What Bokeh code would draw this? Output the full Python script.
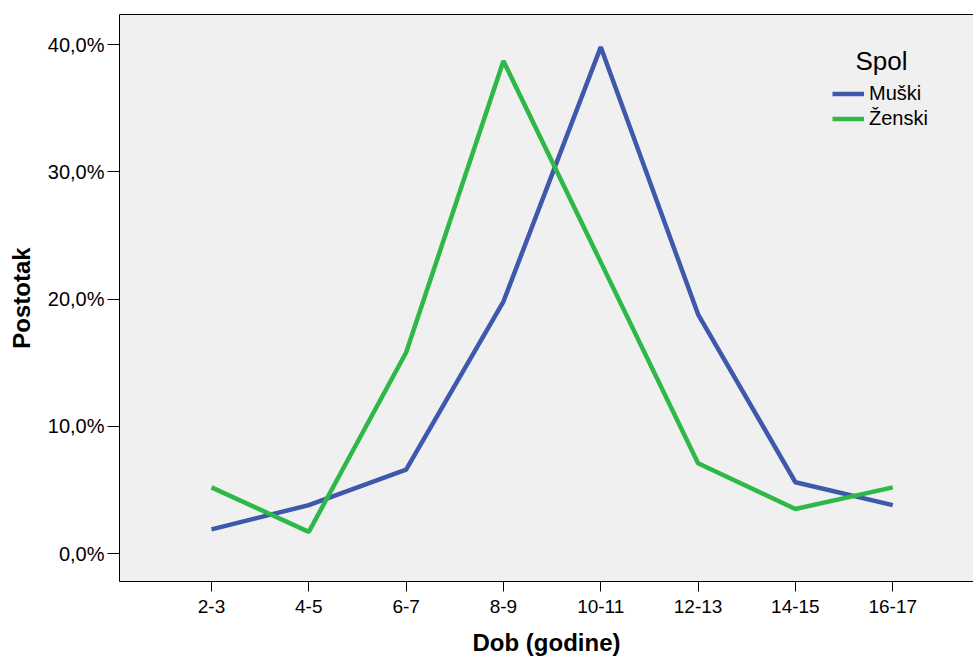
from bokeh.plotting import figure
from bokeh.models import Range1d, FixedTicker, LinearAxis, Legend, LegendItem, Label
from bokeh.embed import file_html
from bokeh.resources import INLINE

categories = ["2-3", "4-5", "6-7", "8-9", "10-11", "12-13", "14-15", "16-17"]
muski = [1.9, 3.8, 6.6, 19.8, 39.8, 18.8, 5.6, 3.8]
zenski = [5.2, 1.7, 15.8, 38.7, 22.9, 7.1, 3.5, 5.2]
y_tick_values = [0, 10, 20, 30, 40]
y_tick_labels = ["0,0%", "10,0%", "20,0%", "30,0%", "40,0%"]
series_names = ["Muški", "Ženski"]
legend_title = "Spol"
x_title = "Dob (godine)"
y_title = "Postotak"

FONT = "Liberation Sans"
BLUE = "#3E58AC"
GREEN = "#2EB848"

xs = list(range(len(categories)))

p = figure(width=973, height=659, output_backend="svg", toolbar_location=None,
           x_range=Range1d(-0.945, 7.83), y_range=Range1d(-2.2, 42.36),
           x_axis_location=None, y_axis_location=None,
           min_border_left=119, min_border_right=0, min_border_top=14, min_border_bottom=78)
p.background_fill_color = "#F0F0F0"
p.border_fill_color = "white"
p.outline_line_color = None
p.xgrid.visible = False
p.ygrid.visible = False

r1 = p.line(xs, muski, line_color=BLUE, line_width=4.5)
r2 = p.line(xs, zenski, line_color=GREEN, line_width=4.5)

yaxis = LinearAxis(ticker=FixedTicker(ticks=y_tick_values),
                   major_label_overrides={v: l for v, l in zip(y_tick_values, y_tick_labels)})
yaxis.axis_label = y_title
yaxis.axis_label_text_font = FONT
yaxis.axis_label_text_font_style = "bold"
yaxis.axis_label_text_font_size = "24px"
yaxis.axis_label_text_color = "black"
yaxis.axis_label_standoff = 10
yaxis.major_label_text_font = FONT
yaxis.major_label_text_font_size = "20px"
yaxis.major_label_text_color = "black"
yaxis.major_label_standoff = 3
yaxis.major_tick_out = 12
yaxis.major_tick_in = 0
yaxis.minor_tick_line_color = None
yaxis.axis_line_color = "black"
yaxis.major_tick_line_color = "black"
p.add_layout(yaxis, "left")

xaxis = LinearAxis(ticker=FixedTicker(ticks=xs),
                   major_label_overrides={i: c for i, c in zip(xs, categories)})
xaxis.axis_label = x_title
xaxis.axis_label_text_font = FONT
xaxis.axis_label_text_font_style = "bold"
xaxis.axis_label_text_font_size = "24px"
xaxis.axis_label_text_color = "black"
xaxis.axis_label_standoff = 13
xaxis.major_label_text_font = FONT
xaxis.major_label_text_font_size = "19px"
xaxis.major_label_text_color = "black"
xaxis.major_label_standoff = 8
xaxis.major_tick_out = 10
xaxis.major_tick_in = 0
xaxis.minor_tick_line_color = None
xaxis.axis_line_color = "black"
xaxis.major_tick_line_color = "black"
p.add_layout(xaxis, "below")

top = LinearAxis(ticker=FixedTicker(ticks=[]), major_label_text_font_size="0px",
                 major_tick_line_color=None, minor_tick_line_color=None,
                 axis_line_color="black")
p.add_layout(top, "above")

legend = Legend(items=[LegendItem(label=series_names[0], renderers=[r1]),
                       LegendItem(label=series_names[1], renderers=[r2])],
                location=(713, 450), orientation="vertical")
legend.label_text_font = FONT
legend.label_text_font_size = "20px"
legend.label_text_color = "black"
legend.glyph_width = 32
legend.glyph_height = 25
legend.label_height = 25
legend.label_standoff = 5
legend.spacing = 0
legend.padding = 0
legend.margin = 0
legend.background_fill_alpha = 0
legend.border_line_color = None
p.add_layout(legend, "center")

p.add_layout(Label(x=736, y=521, x_units="screen", y_units="screen", text=legend_title,
                   text_font=FONT, text_font_size="26px", text_color="black",
                   text_baseline="alphabetic"))

open("out.html", "w").write(file_html(p, INLINE))
